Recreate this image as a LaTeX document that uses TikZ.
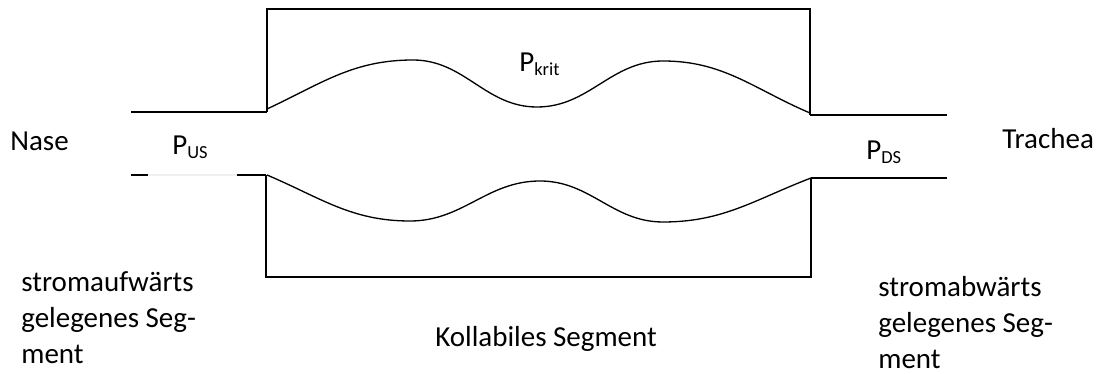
\documentclass[tikz,border=0pt]{standalone}
\usepackage{fontspec}
\setmainfont{Carlito}
\newcommand{\lowsub}[1]{\raisebox{-0.25ex}{\fontsize{10.5}{10.5}\selectfont #1}}

\begin{document}
\begin{tikzpicture}[x=0.02cm,y=-0.02cm,
    wall/.style={line width=0.75pt},
    frame/.style={line width=1.4pt,line join=miter},
    txt/.style={inner sep=0pt,anchor=base west,align=left,
        font=\fontsize{16.5}{20.5}\selectfont}]
    \useasboundingbox (0,0) rectangle (1101,374);

    \draw[frame] (267,112) -- (267,9) -- (810,9) -- (810,115);
    \draw[frame] (266,175) -- (266,277) -- (811,277) -- (811,178);

    \draw[wall] (131,112) -- (267,112);
    \draw[wall] (131,175) -- (148,175);
    \draw[wall,gray!12] (148,175) -- (237,175);
    \draw[wall] (237,175) -- (266,175);
    \draw[wall] (810,115) -- (947,115);
    \draw[wall] (811,178) -- (947,178);

    \draw[wall] (267,109) to[out=25,in=180] (413,60) to[out=0,in=180] (537,107)
        to[out=0,in=180] (663,61) to[out=0,in=157] (810,113);
    \draw[wall] (267,175) to[out=-23,in=180] (410,221) to[out=0,in=180] (540,181)
        to[out=0,in=180] (663,222) to[out=0,in=-159] (811,178);

    \node[txt] (nase) at (10,151) {Nase};
    \node[txt] (pus) at (172,155) {P\lowsub{US}};
    \node[txt] (pkrit) at (519,72) {P\lowsub{krit}};
    \node[txt] (pds) at (866,160) {P\lowsub{DS}};
    \node[txt] (trachea) at (1002,149) {Trachea};
    \node[txt] (upstream) at (21,364) {stromaufwärts\\gelegenes Seg-\\ment};
    \node[txt] (collapsible) at (435,347) {Kollabiles Segment};
    \node[txt] (downstream) at (878,369) {stromabwärts\\gelegenes Seg-\\ment};
\end{tikzpicture}
\end{document}
